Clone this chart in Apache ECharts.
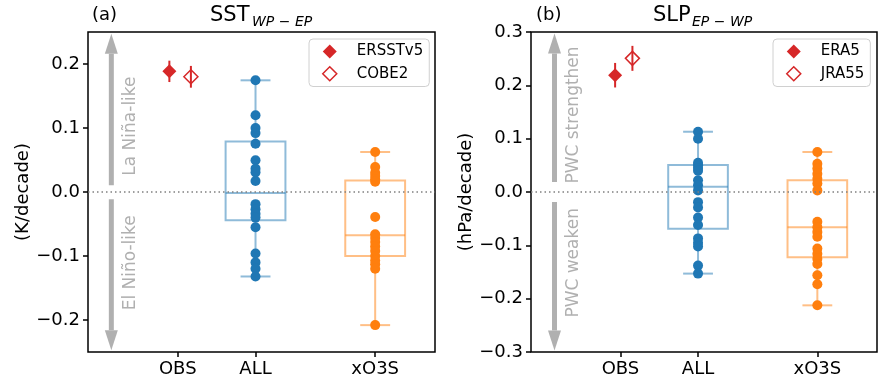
<!DOCTYPE html>
<html>
<head>
<meta charset="utf-8">
<script src="https://cdn.jsdelivr.net/npm/echarts@6/dist/echarts.min.js"></script>
<style>
html, body { margin: 0; padding: 0; background: #fff; }
#chart { width: 883px; height: 381px; }
</style>
</head>
<body>
<div id="chart"></div>
<script>
// x positions and labels
var tickPos = [0.35, 1, 2];
var tickNames = ['OBS', 'ALL', 'xO3S'];
var sstTicks = [-0.2, -0.1, 0, 0.1, 0.2];
var slpTicks = [-0.3, -0.2, -0.1, 0, 0.1, 0.2, 0.3];

// (a) SST WP-EP trends, K/decade
var sstAll = [0.1745, 0.12, 0.1, 0.092, 0.0755, 0.0495, 0.0365, 0.0307, 0.0172,
              -0.019, -0.027, -0.034, -0.04, -0.055, -0.096, -0.11, -0.12, -0.132];
var sstXo3s = [0.0625, 0.039, 0.03, 0.025, 0.02, 0.016, -0.039, -0.066, -0.072,
               -0.078, -0.085, -0.092, -0.1, -0.107, -0.113, -0.12, -0.208];
// box stats: min, q1, median, q3, max
var sstBoxAll = [-0.132, -0.0443, -0.0015, 0.079, 0.1745];
var sstBoxXo3s = [-0.208, -0.1, -0.0677, 0.018, 0.0625];
// obs: x, value, error
var sstObsNames = ['ERSSTv5', 'COBE2'];
var sstObs = [[0.28, 0.1885, 0.0167], [0.46, 0.18, 0.017]];

// (b) SLP EP-WP trends, hPa/decade
var slpAll = [0.113, 0.1, 0.055, 0.05, 0.045, 0.04, 0.022, 0.0125, 0.003,
              -0.019, -0.029, -0.048, -0.062, -0.087, -0.095, -0.102, -0.138, -0.153];
var slpXo3s = [0.075, 0.053, 0.044, 0.034, 0.025, 0.016, 0.003, -0.056, -0.066,
               -0.075, -0.084, -0.106, -0.116, -0.125, -0.135, -0.156, -0.173, -0.2125];
var slpBoxAll = [-0.153, -0.069, 0.010, 0.0506, 0.113];
var slpBoxXo3s = [-0.2125, -0.1225, -0.066, 0.022, 0.075];
var slpObsNames = ['ERA5', 'JRA55'];
var slpObs = [[0.305, 0.219, 0.023], [0.45, 0.2506, 0.0234]];

// side arrows: x, tail, tip   and their labels: x, y
var sstArrows = [[-0.205, 0.0104, 0.2474], [-0.205, -0.0115, -0.2474]];
var sstArrowText = ['La Niña-like', 'El Niño-like'];
var sstTextPos = [[-0.043, 0.103], [-0.043, -0.1106]];
var slpArrows = [[-0.203, 0.0188, 0.297], [-0.203, -0.0188, -0.297]];
var slpArrowText = ['PWC strengthen', 'PWC weaken'];
var slpTextPos = [[-0.044, 0.1444], [-0.044, -0.1328]];

var FONT = 'DejaVu Sans';
var RED = '#d62728';
var GRAY = '#b0b0b0';

function renderBox(params, api) {
    var x = api.value(0);
    var half = 0.25, cap = 0.125;
    var mn = api.value(1), q1 = api.value(2), md = api.value(3), q3 = api.value(4), mx = api.value(5);
    var a = api.coord([x - half, q3]);
    var b = api.coord([x + half, q1]);
    var style = { stroke: api.visual('color'), lineWidth: 2, fill: null };
    function seg(x1, y1, x2, y2) {
        var p = api.coord([x1, y1]), q = api.coord([x2, y2]);
        return { type: 'line', shape: { x1: p[0], y1: p[1], x2: q[0], y2: q[1] }, style: style };
    }
    return {
        type: 'group',
        children: [
            { type: 'rect', shape: { x: a[0], y: a[1], width: b[0] - a[0], height: b[1] - a[1] }, style: style },
            seg(x - half, md, x + half, md),
            seg(x, q3, x, mx),
            seg(x, q1, x, mn),
            seg(x - cap, mx, x + cap, mx),
            seg(x - cap, mn, x + cap, mn)
        ]
    };
}

function renderErr(params, api) {
    var p = api.coord([api.value(0), api.value(1) - api.value(2)]);
    var q = api.coord([api.value(0), api.value(1) + api.value(2)]);
    return { type: 'line', shape: { x1: p[0], y1: p[1], x2: q[0], y2: q[1] },
             style: { stroke: RED, lineWidth: 2 } };
}

function renderArrow(params, api) {
    var t = api.coord([api.value(0), api.value(1)]);
    var h = api.coord([api.value(0), api.value(2)]);
    var dir = h[1] < t[1] ? 1 : -1;
    var headLen = 20, headW = 6.5;
    var base = h[1] + dir * headLen;
    return {
        type: 'group',
        children: [
            { type: 'line', shape: { x1: t[0], y1: t[1], x2: t[0], y2: base },
              style: { stroke: GRAY, lineWidth: 5 } },
            { type: 'polygon', shape: { points: [[h[0], h[1]], [h[0] - headW, base], [h[0] + headW, base]] },
              style: { fill: GRAY } }
        ]
    };
}

function textRenderer(names) {
    return function (params, api) {
        var p = api.coord([api.value(0), api.value(1)]);
        return {
            type: 'text', x: p[0], y: p[1], rotation: Math.PI / 2,
            style: { text: names[params.dataIndex], fill: GRAY, font: '17px "' + FONT + '"',
                     align: 'center', verticalAlign: 'middle' }
        };
    };
}

function pts(x, vals) { return vals.map(function (v) { return [x, v]; }); }

function panelSeries(idx, all, xo3s, boxAll, boxX, obsNames, obs, arrows, arrowText, textPos) {
    var ax = { xAxisIndex: idx, yAxisIndex: idx };
    var list = [
        Object.assign({ type: 'custom', renderItem: renderArrow, data: arrows, z: 1, silent: true }, ax),
        Object.assign({ type: 'custom', renderItem: textRenderer(arrowText), data: textPos, z: 1, silent: true }, ax),
        Object.assign({ type: 'custom', renderItem: renderBox, z: 2, silent: true,
            itemStyle: { color: 'rgba(31,119,180,0.5)' }, data: [[1].concat(boxAll)] }, ax),
        Object.assign({ type: 'custom', renderItem: renderBox, z: 2, silent: true,
            itemStyle: { color: 'rgba(255,127,14,0.5)' }, data: [[2].concat(boxX)] }, ax),
        Object.assign({ type: 'scatter', symbolSize: 10, z: 3, itemStyle: { color: '#1f77b4', opacity: 1 },
            data: pts(1, all),
            markLine: { silent: true, symbol: 'none', label: { show: false },
                lineStyle: { color: '#808080', type: [1.5, 3], width: 1.5 }, data: [{ yAxis: 0 }] } }, ax),
        Object.assign({ type: 'scatter', symbolSize: 10, z: 3, itemStyle: { color: '#ff7f0e', opacity: 1 },
            data: pts(2, xo3s) }, ax),
        Object.assign({ type: 'custom', renderItem: renderErr, data: obs, z: 3, silent: true }, ax),
        Object.assign({ type: 'scatter', name: obsNames[0], symbol: 'diamond', symbolSize: 14, z: 4,
            itemStyle: { color: RED, opacity: 1 }, data: [[obs[0][0], obs[0][1]]] }, ax),
        Object.assign({ type: 'scatter', name: obsNames[1], symbol: 'diamond', symbolSize: 14, z: 4,
            itemStyle: { color: 'rgba(255,255,255,0)', borderColor: RED, borderWidth: 1.5, opacity: 1 },
            data: [[obs[1][0], obs[1][1]]] }, ax)
    ];
    return list;
}

function xAxisCfg(idx) {
    return {
        type: 'value', gridIndex: idx, min: -0.4, max: 2.5,
        axisLine: { show: false, onZero: false }, splitLine: { show: false },
        axisTick: { show: true, customValues: tickPos, length: 5, lineStyle: { color: '#000', width: 1.5 } },
        axisLabel: { customValues: tickPos, margin: 8, color: '#000', fontSize: 18, fontFamily: FONT,
            formatter: function (v) { return tickNames[tickPos.indexOf(v)]; } }
    };
}

function yAxisCfg(idx, min, max, ticks, name, gap) {
    return {
        type: 'value', gridIndex: idx, min: min, max: max, name: name,
        nameLocation: 'middle', nameGap: gap,
        nameTextStyle: { color: '#000', fontSize: 18, fontFamily: FONT },
        axisLine: { show: false, onZero: false }, splitLine: { show: false },
        axisTick: { show: true, customValues: ticks, length: 5, lineStyle: { color: '#000', width: 1.5 } },
        axisLabel: { customValues: ticks, margin: 8, color: '#000', fontSize: 18, fontFamily: FONT,
            formatter: function (v) { return v.toFixed(1).replace('-', '\u2212'); } }
    };
}

function legendCfg(left, names) {
    return {
        left: left, top: 39, orient: 'vertical', selectedMode: false,
        itemWidth: 14, itemHeight: 14, itemGap: 7,
        padding: [5, 6, 5, 13],
        borderColor: '#d0d0d0', borderWidth: 1, borderRadius: 4,
        textStyle: { color: '#000', fontSize: 15, fontFamily: FONT, padding: [0, 0, 0, 15] },
        data: [
            { name: names[0], icon: 'diamond', itemStyle: { color: RED } },
            { name: names[1], icon: 'diamond', itemStyle: { color: '#fff', borderColor: RED, borderWidth: 1.5 } }
        ]
    };
}

function titleTexts(mainX, mainText, subX, subText, tagX, tag) {
    return [
        { type: 'text', left: tagX, top: 6, style: { text: tag, fill: '#000', font: '18px "' + FONT + '"' } },
        { type: 'text', left: mainX, top: 5, style: { text: mainText, fill: '#000', font: '21px "' + FONT + '"' } },
        { type: 'text', left: subX, top: 15, style: { text: subText, fill: '#000', font: 'italic 14px "' + FONT + '"' } }
    ];
}

var chart = echarts.init(document.getElementById('chart'));
var option = {
    animation: false,
    backgroundColor: '#fff',
    textStyle: { fontFamily: FONT },
    grid: [
        { left: 88, top: 32, width: 347, height: 320, show: true, borderColor: '#000', borderWidth: 1.5 },
        { left: 531, top: 32, width: 346, height: 320, show: true, borderColor: '#000', borderWidth: 1.5 }
    ],
    xAxis: [xAxisCfg(0), xAxisCfg(1)],
    yAxis: [
        yAxisCfg(0, -0.25, 0.25, sstTicks, '(K/decade)', 52.5),
        yAxisCfg(1, -0.3, 0.3, slpTicks, '(hPa/decade)', 56)
    ],
    legend: [legendCfg(309, sstObsNames), legendCfg(773, slpObsNames)],
    graphic: titleTexts(210, 'SST', 252, 'WP \u2212 EP', 92, '(a)')
        .concat(titleTexts(653, 'SLP', 692, 'EP \u2212 WP', 536, '(b)')),
    series: panelSeries(0, sstAll, sstXo3s, sstBoxAll, sstBoxXo3s, sstObsNames, sstObs,
                        sstArrows, sstArrowText, sstTextPos)
        .concat(panelSeries(1, slpAll, slpXo3s, slpBoxAll, slpBoxXo3s, slpObsNames, slpObs,
                            slpArrows, slpArrowText, slpTextPos))
};
chart.setOption(option);
</script>
</body>
</html>
